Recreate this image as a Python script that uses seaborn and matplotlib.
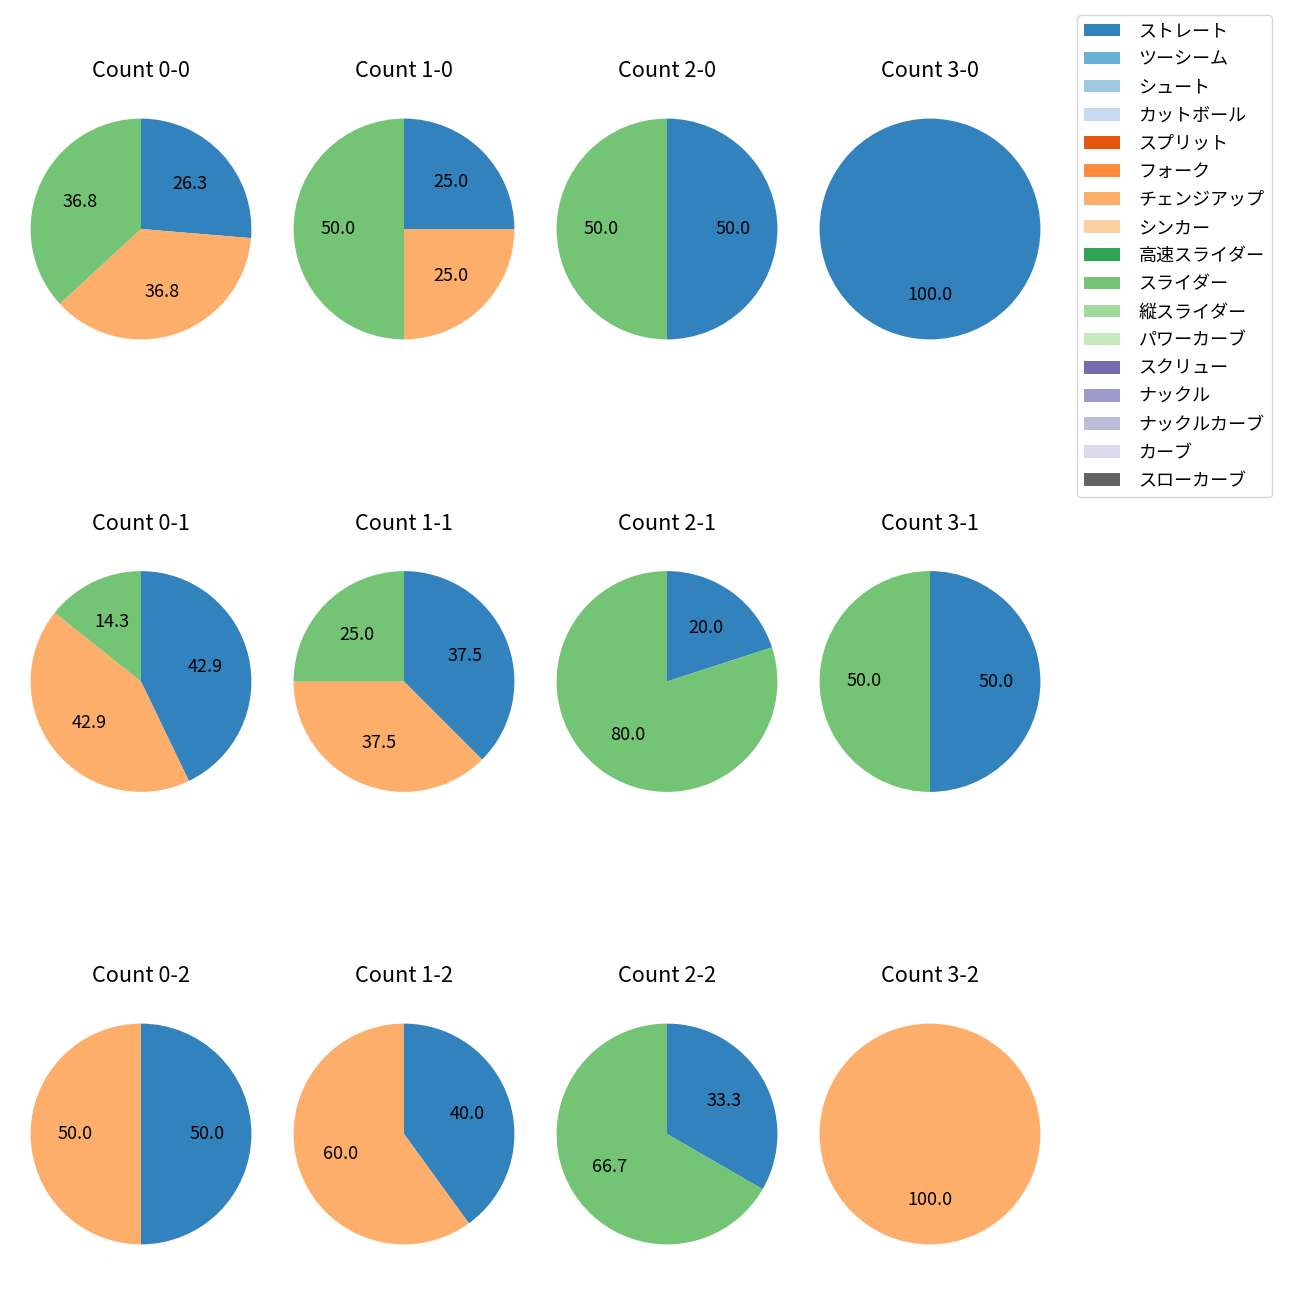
import matplotlib
matplotlib.use("Agg")
import matplotlib.pyplot as plt
from matplotlib.patches import Patch
import seaborn as sns

plt.rcParams['font.family'] = ['Noto Sans CJK JP', 'DejaVu Sans']

# pitch types (legend order)
pitch_types = ["ストレート", "ツーシーム", "シュート", "カットボール", "スプリット",
               "フォーク", "チェンジアップ", "シンカー", "高速スライダー", "スライダー",
               "縦スライダー", "パワーカーブ", "スクリュー", "ナックル", "ナックルカーブ",
               "カーブ", "スローカーブ"]

# counts per ball-strike situation: (straight, changeup, slider)
counts = ["0-0", "1-0", "2-0", "3-0",
          "0-1", "1-1", "2-1", "3-1",
          "0-2", "1-2", "2-2", "3-2"]
straight = [5, 1, 1, 1, 3, 3, 1, 1, 1, 2, 1, 0]
changeup = [7, 1, 0, 0, 3, 3, 0, 0, 1, 3, 0, 1]
slider = [7, 2, 1, 0, 1, 2, 4, 1, 0, 0, 2, 0]

colors = sns.color_palette("tab20c", len(pitch_types))
color_map = dict(zip(pitch_types, colors))

fig = plt.figure(figsize=(13, 13), dpi=100)
W = H = 1300
size = 276

for i, name in enumerate(counts):
    r, c = divmod(i, 4)
    cx = 141 + 263 * c
    cy = 229 + 452.5 * r
    ax = fig.add_axes([(cx - size / 2) / W, 1 - (cy + size / 2) / H, size / W, size / H])
    vals, cols = [], []
    for label, v in zip(["ストレート", "チェンジアップ", "スライダー"],
                        [straight[i], changeup[i], slider[i]]):
        if v > 0:
            vals.append(v)
            cols.append(color_map[label])
    ax.pie(vals, colors=cols, startangle=90, counterclock=False,
           autopct="%.1f", textprops={"fontsize": 13})
    ax.set_title(f"Count {name}", fontsize=15.6, pad=10)

handles = [Patch(facecolor=color_map[p], label=p) for p in pitch_types]
fig.legend(handles=handles, loc="upper left",
           bbox_to_anchor=(1077 / W, 1 - 15 / H), fontsize=13,
           borderaxespad=0, labelspacing=0.56, handletextpad=1.0)

fig.savefig("out.png", dpi=100)
